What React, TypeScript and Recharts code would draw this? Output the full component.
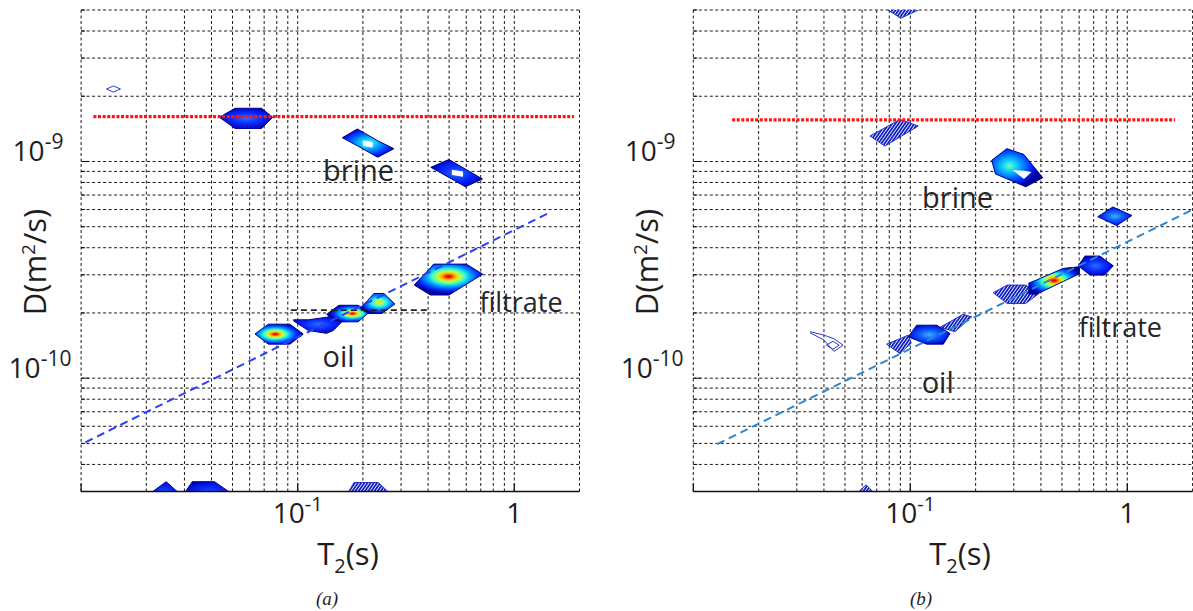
import React from 'react';
import { ComposedChart, XAxis, YAxis, CartesianGrid, Area, Line, Scatter } from 'recharts';

// axes (log-log D–T2 map)
const T2_TICKS = [0.01, 0.02, 0.03, 0.04, 0.05, 0.06, 0.07, 0.08, 0.09, 0.1, 0.2, 0.3, 0.4, 0.5, 0.6, 0.7, 0.8, 0.9, 1, 2];
const D_TICKS = [
  3e-11, 4e-11, 5e-11, 6e-11, 7e-11, 8e-11, 9e-11,
  1e-10, 2e-10, 3e-10, 4e-10, 5e-10, 6e-10, 7e-10, 8e-10, 9e-10,
  1e-9, 2e-9, 3e-9, 4e-9, 5e-9,
];
const T2_RANGE = [0.01, 2];
const D_RANGE = [3e-11, 5e-9];

// ---- panel (a) contour patches: T2 and [D low, D high] slices ----
const aSpeck = [
  { t: 0.0131, r: [2.16e-9, 2.16e-9] },
  { t: 0.0141, r: [2.09e-9, 2.23e-9] },
  { t: 0.0152, r: [2.16e-9, 2.16e-9] },
];
const aTop = [
  { t: 0.0435, r: [1.6e-9, 1.6e-9] },
  { t: 0.0514, r: [1.42e-9, 1.76e-9] },
  { t: 0.0681, r: [1.42e-9, 1.76e-9] },
  { t: 0.0767, r: [1.6e-9, 1.6e-9] },
];
const aBrine1 = [
  { t: 0.1607, r: [1.287e-9, 1.287e-9] },
  { t: 0.1885, r: [1.182e-9, 1.413e-9] },
  { t: 0.234, r: [1.046e-9, 1.247e-9] },
  { t: 0.278, r: [1.145e-9, 1.145e-9] },
];
const aBrine1Hole = [
  { t: 0.2, r: [1.18e-9, 1.25e-9] },
  { t: 0.222, r: [1.16e-9, 1.23e-9] },
];
const aBrine2 = [
  { t: 0.4117, r: [9.4e-10, 9.4e-10] },
  { t: 0.4989, r: [8.44e-10, 1.021e-9] },
  { t: 0.5947, r: [7.64e-10, 9.22e-10] },
  { t: 0.7125, r: [8.3e-10, 8.3e-10] },
];
const aBrine2Hole = [
  { t: 0.515, r: [8.65e-10, 9.15e-10] },
  { t: 0.58, r: [8.5e-10, 9.0e-10] },
];
const aFiltrate = [
  { t: 0.345, r: [2.69e-10, 2.69e-10] },
  { t: 0.41, r: [2.42e-10, 3.23e-10] },
  { t: 0.424, r: [2.42e-10, 3.36e-10] },
  { t: 0.5, r: [2.42e-10, 3.36e-10] },
  { t: 0.6, r: [2.71e-10, 3.36e-10] },
  { t: 0.715, r: [3.02e-10, 3.02e-10] },
];
const aOil1 = [
  { t: 0.0635, r: [1.6e-10, 1.6e-10] },
  { t: 0.0732, r: [1.436e-10, 1.775e-10] },
  { t: 0.092, r: [1.436e-10, 1.775e-10] },
  { t: 0.106, r: [1.6e-10, 1.6e-10] },
];
const aOil2 = [
  { t: 0.0955, r: [1.84e-10, 1.86e-10] },
  { t: 0.112, r: [1.66e-10, 1.86e-10] },
  { t: 0.136, r: [1.61e-10, 1.91e-10] },
  { t: 0.146, r: [1.66e-10, 1.95e-10] },
  { t: 0.1624, r: [1.85e-10, 1.85e-10] },
];
const aOil3 = [
  { t: 0.136, r: [1.97e-10, 1.97e-10] },
  { t: 0.155, r: [1.82e-10, 2.17e-10] },
  { t: 0.19, r: [1.82e-10, 2.17e-10] },
  { t: 0.212, r: [2.0e-10, 2.0e-10] },
];
const aOil4 = [
  { t: 0.194, r: [2.1e-10, 2.1e-10] },
  { t: 0.21, r: [1.99e-10, 2.28e-10] },
  { t: 0.225, r: [1.99e-10, 2.46e-10] },
  { t: 0.245, r: [1.99e-10, 2.46e-10] },
  { t: 0.25, r: [2.02e-10, 2.46e-10] },
  { t: 0.281, r: [2.2e-10, 2.2e-10] },
];
const aBottom1 = [
  { t: 0.0195, r: [2.6e-11, 2.8e-11] },
  { t: 0.0247, r: [2.5e-11, 3.33e-11] },
  { t: 0.03, r: [2.6e-11, 2.8e-11] },
];
const aBottom2 = [
  { t: 0.029, r: [2.6e-11, 2.8e-11] },
  { t: 0.0326, r: [2.5e-11, 3.33e-11] },
  { t: 0.0413, r: [2.5e-11, 3.33e-11] },
  { t: 0.053, r: [2.6e-11, 2.8e-11] },
];
const aBottom3 = [
  { t: 0.165, r: [2.6e-11, 2.8e-11] },
  { t: 0.182, r: [2.5e-11, 3.3e-11] },
  { t: 0.236, r: [2.5e-11, 3.3e-11] },
  { t: 0.28, r: [2.6e-11, 2.8e-11] },
];

// panel (a) guide lines
const aRed = [{ t: 0.0114, d: 1.61e-9 }, { t: 1.885, d: 1.61e-9 }];
const aOilLevel = [{ t: 0.093, d: 2.06e-10 }, { t: 0.408, d: 2.06e-10 }];
const aTrend = [{ t: 0.01047, d: 5.06e-11 }, { t: 1.475, d: 5.85e-10 }];
const aLabels = [
  { t: 0.191, d: 9.12e-10, text: 'brine' },
  { t: 0.1543, d: 1.27e-10, text: 'oil' },
  { t: 1.074, d: 2.25e-10, text: 'filtrate' },
];

// ---- panel (b) contour patches ----
const bTop = [
  { t: 0.079, r: [5.0e-9, 5.1e-9] },
  { t: 0.0904, r: [4.58e-9, 5.5e-9] },
  { t: 0.109, r: [5.0e-9, 5.1e-9] },
];
const bBrine1 = [
  { t: 0.0652, r: [1.31e-9, 1.31e-9] },
  { t: 0.0764, r: [1.178e-9, 1.43e-9] },
  { t: 0.0896, r: [1.296e-9, 1.564e-9] },
  { t: 0.1089, r: [1.457e-9, 1.457e-9] },
];
const bBrine2 = [
  { t: 0.2372, r: [1.0125e-9, 1.0125e-9] },
  { t: 0.247, r: [8.76e-10, 1.045e-9] },
  { t: 0.2786, r: [8.32e-10, 1.146e-9] },
  { t: 0.334, r: [7.71e-10, 1.077e-9] },
  { t: 0.3405, r: [7.64e-10, 1.051e-9] },
  { t: 0.408, r: [8.41e-10, 8.41e-10] },
];
const bBrine2Hole = [
  { t: 0.2958, r: [9.13e-10, 9.13e-10] },
  { t: 0.334, r: [8.3e-10, 9.05e-10] },
  { t: 0.362, r: [8.94e-10, 8.94e-10] },
];
const bDiamond = [
  { t: 0.731, r: [5.56e-10, 5.56e-10] },
  { t: 0.858, r: [5.16e-10, 6.17e-10] },
  { t: 0.894, r: [5.06e-10, 6.05e-10] },
  { t: 1.05, r: [5.63e-10, 5.63e-10] },
];
const bFil0 = [
  { t: 0.241, r: [2.48e-10, 2.48e-10] },
  { t: 0.28, r: [2.21e-10, 2.69e-10] },
  { t: 0.34, r: [2.21e-10, 2.69e-10] },
  { t: 0.39, r: [2.45e-10, 2.45e-10] },
];
const bFil1 = [
  { t: 0.35, r: [2.45e-10, 2.74e-10] },
  { t: 0.382, r: [2.44e-10, 2.84e-10] },
  { t: 0.507, r: [2.795e-10, 3.21e-10] },
  { t: 0.605, r: [3.04e-10, 3.27e-10] },
];
const bFil2 = [
  { t: 0.5946, r: [3.3e-10, 3.3e-10] },
  { t: 0.638, r: [3.12e-10, 3.66e-10] },
  { t: 0.673, r: [2.99e-10, 3.66e-10] },
  { t: 0.748, r: [2.99e-10, 3.66e-10] },
  { t: 0.786, r: [2.99e-10, 3.53e-10] },
  { t: 0.862, r: [3.3e-10, 3.3e-10] },
];
const bOil1 = [
  { t: 0.0979, r: [1.551e-10, 1.551e-10] },
  { t: 0.107, r: [1.497e-10, 1.756e-10] },
  { t: 0.119, r: [1.436e-10, 1.756e-10] },
  { t: 0.1324, r: [1.436e-10, 1.756e-10] },
  { t: 0.142, r: [1.436e-10, 1.68e-10] },
  { t: 0.1524, r: [1.609e-10, 1.609e-10] },
];
const bOilLeft = [
  { t: 0.0778, r: [1.436e-10, 1.436e-10] },
  { t: 0.0895, r: [1.3e-10, 1.522e-10] },
  { t: 0.0979, r: [1.41e-10, 1.58e-10] },
  { t: 0.101, r: [1.45e-10, 1.45e-10] },
];
const bOilRight = [
  { t: 0.137, r: [1.715e-10, 1.715e-10] },
  { t: 0.1607, r: [1.64e-10, 1.877e-10] },
  { t: 0.175, r: [1.768e-10, 1.97e-10] },
  { t: 0.192, r: [1.92e-10, 1.92e-10] },
];
const bTear = [
  { t: 0.0345, r: [1.62e-10, 1.64e-10] },
  { t: 0.04, r: [1.5e-10, 1.58e-10] },
  { t: 0.0445, r: [1.33e-10, 1.52e-10] },
  { t: 0.049, r: [1.42e-10, 1.42e-10] },
];
const bTearCore = [
  { t: 0.041, r: [1.42e-10, 1.42e-10] },
  { t: 0.044, r: [1.36e-10, 1.48e-10] },
  { t: 0.047, r: [1.42e-10, 1.42e-10] },
];
const bBottom = [
  { t: 0.054, r: [2.6e-11, 2.8e-11] },
  { t: 0.0625, r: [2.5e-11, 3.22e-11] },
  { t: 0.072, r: [2.6e-11, 2.8e-11] },
];

// panel (b) guide lines
const bRed = [{ t: 0.0151, d: 1.556e-9 }, { t: 1.66, d: 1.556e-9 }];
const bTrend = [{ t: 0.01288, d: 4.96e-11 }, { t: 1.995, d: 5.99e-10 }];
const bLabels = [
  { t: 0.1652, d: 6.84e-10, text: 'brine' },
  { t: 0.1338, d: 9.6e-11, text: 'oil' },
  { t: 0.93, d: 1.73e-10, text: 'filtrate' },
];

// jet-like colour ramps for the filled contours
const RAMPS: Record<string, [number, string][]> = {
  strong: [[0, '#c00000'], [0.08, '#ff2000'], [0.18, '#ffb000'], [0.3, '#c8ff40'], [0.44, '#30ffd0'], [0.6, '#00a0ff'], [0.8, '#0030ff'], [1, '#00009a']],
  yellow: [[0, '#ffe000'], [0.2, '#a0ff60'], [0.4, '#20f0ff'], [0.62, '#0090ff'], [0.85, '#0030ff'], [1, '#00009a']],
  mid: [[0, '#70ffb0'], [0.25, '#10d0ff'], [0.55, '#0070ff'], [0.8, '#0020ff'], [1, '#00009a']],
  light: [[0, '#40b0ff'], [0.4, '#1060ff'], [0.8, '#0020f0'], [1, '#000090']],
  weak: [[0, '#2a70ff'], [0.45, '#0a30ff'], [0.8, '#0010e0'], [1, '#000090']],
};

type Blob = { id: string; data: { t: number; r: number[] }[]; look: string; focus?: number[] };

const blobsA: Blob[] = [
  { id: 'aSpeck', data: aSpeck, look: 'outline' },
  { id: 'aTop', data: aTop, look: 'weak' },
  { id: 'aBrine1', data: aBrine1, look: 'mid' },
  { id: 'aBrine1Hole', data: aBrine1Hole, look: 'hole' },
  { id: 'aBrine2', data: aBrine2, look: 'weak' },
  { id: 'aBrine2Hole', data: aBrine2Hole, look: 'hole' },
  { id: 'aFiltrate', data: aFiltrate, look: 'strong', focus: [0.5, 0.4] },
  { id: 'aOil2', data: aOil2, look: 'weak' },
  { id: 'aOil1', data: aOil1, look: 'strong', focus: [0.42, 0.5] },
  { id: 'aOil3', data: aOil3, look: 'strong', focus: [0.62, 0.5] },
  { id: 'aOil4', data: aOil4, look: 'yellow', focus: [0.55, 0.45] },
  { id: 'aBottom1', data: aBottom1, look: 'weak' },
  { id: 'aBottom2', data: aBottom2, look: 'weak' },
  { id: 'aBottom3', data: aBottom3, look: 'hatch' },
];

const blobsB: Blob[] = [
  { id: 'bTop', data: bTop, look: 'hatch' },
  { id: 'bBrine1', data: bBrine1, look: 'hatch' },
  { id: 'bBrine2', data: bBrine2, look: 'mid', focus: [0.35, 0.45] },
  { id: 'bBrine2Hole', data: bBrine2Hole, look: 'hole' },
  { id: 'bDiamond', data: bDiamond, look: 'light' },
  { id: 'bFil0', data: bFil0, look: 'hatch' },
  { id: 'bFil2', data: bFil2, look: 'weak' },
  { id: 'bFil1', data: bFil1, look: 'strong' },
  { id: 'bOilLeft', data: bOilLeft, look: 'hatch' },
  { id: 'bOilRight', data: bOilRight, look: 'hatch' },
  { id: 'bOil1', data: bOil1, look: 'light' },
  { id: 'bTear', data: bTear, look: 'outline' },
  { id: 'bTearCore', data: bTearCore, look: 'outline' },
  { id: 'bBottom', data: bBottom, look: 'hatch' },
];

const linesA = [
  { id: 'aRed', data: aRed, color: '#ff1414', width: 3.2, dash: '3 1.6' },
  { id: 'aOilLevel', data: aOilLevel, color: '#222', width: 1.8, dash: '6 4' },
  { id: 'aTrend', data: aTrend, color: '#2f3ff5', width: 2, dash: '8 5' },
];
const linesB = [
  { id: 'bRed', data: bRed, color: '#ff1414', width: 3.2, dash: '3 1.6' },
  { id: 'bTrend', data: bTrend, color: '#2a86d1', width: 2, dash: '8 5' },
];

const FONT = '"Open Sans", "Noto Sans", sans-serif';
const INK = '#1e1e1e';

function blobPaint(b: Blob) {
  if (b.look === 'hatch') return { fill: 'url(#hatch)', stroke: '#1424c0', strokeWidth: 0.9 };
  if (b.look === 'outline') return { fill: 'none', stroke: '#2a3acb', strokeWidth: 1 };
  if (b.look === 'hole') return { fill: '#ffffff', stroke: 'none', strokeWidth: 0 };
  return { fill: `url(#g-${b.id})`, stroke: '#00008c', strokeWidth: 1 };
}

const XTick = (props: any) => {
  const { x, y, payload } = props;
  const v = payload.value;
  const major = v === 0.01 || v === 0.1 || v === 1;
  return (
    <g>
      {major && <line x1={x} x2={x} y1={y} y2={y - 8} stroke="#111" strokeWidth={1.3} />}
      {v === 0.1 && (
        <text x={x} y={y + 31.5} textAnchor="middle" fontSize={28} fill={INK} fontFamily={FONT}>
          10<tspan dy={-12} fontSize={20}>-1</tspan>
        </text>
      )}
      {v === 1 && (
        <text x={x} y={y + 31.5} textAnchor="middle" fontSize={28} fill={INK} fontFamily={FONT}>
          1
        </text>
      )}
    </g>
  );
};

const YTick = (props: any) => {
  const { x, y, payload } = props;
  const v = payload.value;
  const major = v === 1e-10 || v === 1e-9;
  return (
    <g>
      <line x1={x} x2={x + (major ? 8 : 4)} y1={y} y2={y} stroke="#111" strokeWidth={1} />
      {v === 1e-9 && (
        <text x={x - 68.5} y={y} fontSize={28} fill={INK} fontFamily={FONT}>
          10<tspan dy={-12} fontSize={21}>-9</tspan>
        </text>
      )}
      {v === 1e-10 && (
        <text x={x - 72.5} y={y} fontSize={28} fill={INK} fontFamily={FONT}>
          10<tspan dy={-12} fontSize={21}>-10</tspan>
        </text>
      )}
    </g>
  );
};

const LabelMark = (props: any) => {
  const { cx, cy, payload } = props;
  const fs = payload.text === 'filtrate' ? 27 : 29;
  return (
    <text x={cx} y={cy + fs * 0.38} textAnchor="middle" fontSize={fs} fill="#262626" fontFamily={FONT}>
      {payload.text}
    </text>
  );
};

function Panel({ blobs, lines, labels, width, margin }: any) {
  // the axes need a non-zero size to draw their ticks, so take 1px from the margin
  const m = { ...margin, left: margin.left - 1, bottom: margin.bottom - 1 };
  return (
    <ComposedChart width={width} height={611} margin={m}>
      <CartesianGrid stroke="#1a1a1a" strokeDasharray="3 2.5" strokeWidth={1} />
      <XAxis
        dataKey="t"
        type="number"
        scale="log"
        domain={T2_RANGE}
        ticks={T2_TICKS}
        allowDataOverflow
        interval={0}
        height={1}
        tickSize={0}
        tickMargin={0}
        tickLine={false}
        axisLine={{ stroke: '#111', strokeWidth: 1.4 }}
        tick={XTick}
      />
      <YAxis
        type="number"
        scale="log"
        domain={D_RANGE}
        ticks={D_TICKS}
        allowDataOverflow
        interval={0}
        width={1}
        tickSize={0}
        tickMargin={0}
        tickLine={false}
        axisLine={false}
        tick={YTick}
      />
      {blobs.map((b: Blob) => {
        const p = blobPaint(b);
        return (
          <Area
            key={b.id}
            data={b.data}
            dataKey="r"
            type="linear"
            fill={p.fill}
            fillOpacity={1}
            stroke={p.stroke}
            strokeWidth={p.strokeWidth}
            dot={false}
            activeDot={false}
            legendType="none"
            isAnimationActive={false}
          />
        );
      })}
      {lines.map((l: any) => (
        <Line
          key={l.id}
          data={l.data}
          dataKey="d"
          type="linear"
          stroke={l.color}
          strokeWidth={l.width}
          strokeDasharray={l.dash}
          dot={false}
          activeDot={false}
          legendType="none"
          isAnimationActive={false}
        />
      ))}
      <Scatter data={labels} dataKey="d" shape={LabelMark} isAnimationActive={false} />
    </ComposedChart>
  );
}

function Title({ x, y, rotate, children, size = 31 }: any) {
  return (
    <div
      style={{
        position: 'absolute',
        left: x,
        top: y,
        transform: `translate(-50%, -50%)${rotate ? ' rotate(-90deg)' : ''}`,
        fontSize: size,
        lineHeight: 1,
        whiteSpace: 'nowrap',
        color: INK,
        fontFamily: FONT,
      }}
    >
      {children}
    </div>
  );
}

const DTitle = () => (
  <>
    D(m<span style={{ fontSize: 19, position: 'relative', top: -11 }}>2</span>/s)
  </>
);
const TTitle = () => (
  <>
    T<span style={{ fontSize: 20, position: 'relative', top: 8 }}>2</span>(s)
  </>
);

const captionStyle: React.CSSProperties = {
  position: 'absolute',
  top: 599,
  transform: 'translate(-50%, -50%)',
  fontFamily: '"Liberation Serif", serif',
  fontStyle: 'italic',
  fontSize: 19,
  color: INK,
};

export default function App() {
  const allBlobs = [...blobsA, ...blobsB];
  return (
    <div
      style={{
        position: 'absolute',
        left: 0,
        top: 0,
        width: 1193,
        height: 611,
        background: '#fff',
        overflow: 'hidden',
      }}
    >
      <svg width={0} height={0} style={{ position: 'absolute' }}>
        <defs>
          <pattern id="hatch" width="2.6" height="2.6" patternUnits="userSpaceOnUse" patternTransform="rotate(35)">
            <rect width="2.6" height="2.6" fill="#ffffff" />
            <line x1="0.9" y1="0" x2="0.9" y2="2.6" stroke="#1020c0" strokeWidth="1.8" />
          </pattern>
          {allBlobs
            .filter((b) => RAMPS[b.look])
            .map((b) => (
              <radialGradient
                key={b.id}
                id={`g-${b.id}`}
                cx={b.focus ? b.focus[0] : 0.5}
                cy={b.focus ? b.focus[1] : 0.5}
                r={0.55}
              >
                {RAMPS[b.look].map(([o, c]) => (
                  <stop key={o} offset={o} stopColor={c} />
                ))}
              </radialGradient>
            ))}
        </defs>
      </svg>

      <div style={{ position: 'absolute', left: 0, top: 0 }}>
        <Panel
          blobs={blobsA}
          lines={linesA}
          labels={aLabels}
          width={600}
          margin={{ top: 10, left: 81.1, right: 20.5, bottom: 119.5 }}
        />
      </div>
      <div style={{ position: 'absolute', left: 600, top: 0 }}>
        <Panel
          blobs={blobsB}
          lines={linesB}
          labels={bLabels}
          width={593}
          margin={{ top: 10, left: 93.3, right: 0.4, bottom: 119.5 }}
        />
      </div>

      <Title x={33.5} y={262} rotate>
        <DTitle />
      </Title>
      <Title x={348} y={553}>
        <TTitle />
      </Title>
      <Title x={645.5} y={262} rotate>
        <DTitle />
      </Title>
      <Title x={960} y={553}>
        <TTitle />
      </Title>

      <div style={{ ...captionStyle, left: 327 }}>(a)</div>
      <div style={{ ...captionStyle, left: 921 }}>(b)</div>
    </div>
  );
}
